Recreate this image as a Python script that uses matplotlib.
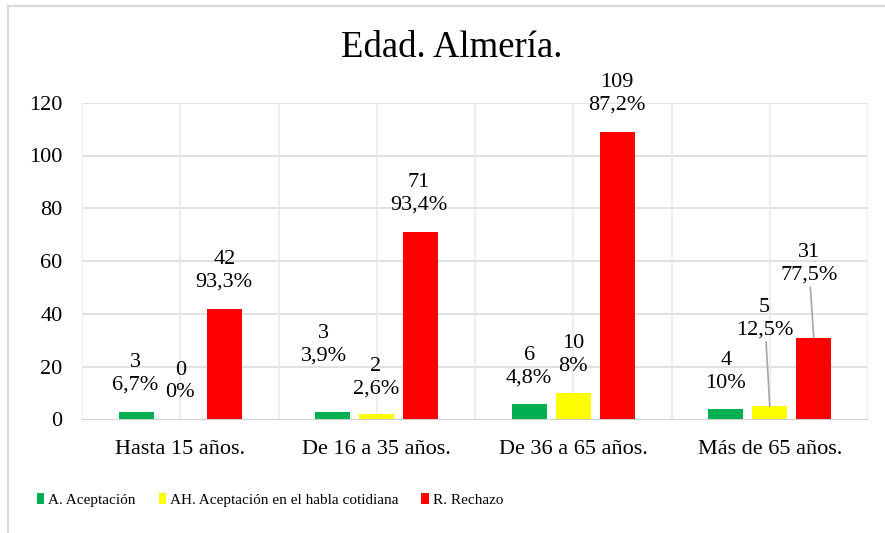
import numpy as np
import matplotlib
matplotlib.use("Agg")
import matplotlib.pyplot as plt
from matplotlib.lines import Line2D

plt.rcParams['font.family'] = ['Liberation Serif', 'DejaVu Serif']

# data
categories = ["Hasta 15 años.", "De 16 a 35 años.", "De 36 a 65 años.", "Más de 65 años."]
series_names = ["A. Aceptación", "AH. Aceptación en el habla cotidiana", "R. Rechazo"]
aceptacion = [3, 3, 6, 4]
habla = [0, 2, 10, 5]
rechazo = [42, 71, 109, 31]
pct_aceptacion = ["6,7%", "3,9%", "4,8%", "10%"]
pct_habla = ["0%", "2,6%", "8%", "12,5%"]
pct_rechazo = ["93,3%", "93,4%", "87,2%", "77,5%"]
yticks = [0, 20, 40, 60, 80, 100, 120]

colors = ["#00b050", "#ffff00", "#ff0000"]

# label offsets in pixels (dx, dy above bar top), per series then category
label_offsets = [
    [(-1, 38), (-9, 67), (0, 37), (0, 37)],
    [(0, 38), (-1, 36), (0, 38), (-5, 88)],
    [(0, 38), (-2, 38), (0, 38), (-5, 74)],
]
leaders = {(1, 3), (2, 3)}

fig = plt.figure(figsize=(8.85, 5.33), dpi=100)
ax = fig.add_axes([82 / 885, 1 - 419.5 / 533, (868 - 82) / 885, (419.5 - 102.7) / 533])

x = np.arange(len(categories))
step = 0.224
width = 0.178
values = [aceptacion, habla, rechazo]
pcts = [pct_aceptacion, pct_habla, pct_rechazo]

# grid
for yv in yticks[1:]:
    ax.axhline(yv, color="#d9d9d9", lw=1.1, zorder=0)
for xv in np.arange(-0.5, len(categories), 0.5):
    ax.axvline(xv, color="#e8e8e8", lw=1.1, zorder=0)
ax.axhline(0, color="#d0d0d0", lw=1.4, zorder=3)

bars = []
for i, (vals, name) in enumerate(zip(values, series_names)):
    b = ax.bar(x + (i - 1) * step, vals, width, color=colors[i], label=name, zorder=2)
    bars.append(b)
    for j, v in enumerate(vals):
        dx, dy = label_offsets[i][j]
        arrow = None
        if (i, j) in leaders:
            arrow = dict(arrowstyle="-", color="#a6a6a6", lw=1.2, shrinkA=0, shrinkB=0)
        ax.annotate(f"{v}\n{pcts[i][j]}", xy=(x[j] + (i - 1) * step, v),
                    xytext=(dx * 0.72, dy * 0.72), textcoords="offset points",
                    ha="center", va="center", fontsize=16, linespacing=1.25,
                    arrowprops=arrow, zorder=4)

ax.set_xlim(-0.5, len(categories) - 0.5)
ax.set_ylim(0, 120)
ax.set_yticks(yticks)
ax.set_xticks(x)
ax.set_xticklabels(categories)
ax.tick_params(axis="both", length=0, labelsize=16)
ax.tick_params(axis="y", pad=14)
ax.tick_params(axis="x", pad=15)
for s in ax.spines.values():
    s.set_visible(False)

fig.text(451.5 / 885, 1 - 48 / 533, "Edad. Almería.", ha="center", va="center", fontsize=26.5)

fig.legend(handles=bars, labels=series_names, loc="center", bbox_to_anchor=(270 / 885, 1 - 500 / 533),
           ncol=3, frameon=False, fontsize=11, handlelength=0.5, handleheight=0.75,
           handletextpad=0.25, columnspacing=1.5)

# chart border
fig.add_artist(Line2D([7.5 / 885, 7.5 / 885], [0, 1 - 6 / 533], transform=fig.transFigure, color="#d9d9d9", lw=1.5))
fig.add_artist(Line2D([7.5 / 885, 1], [1 - 6 / 533, 1 - 6 / 533], transform=fig.transFigure, color="#d9d9d9", lw=1.5))

fig.savefig("out.png", dpi=100)
